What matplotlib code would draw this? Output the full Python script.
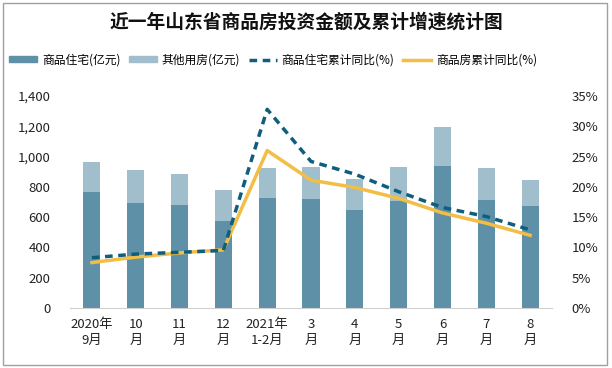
import matplotlib
matplotlib.use("Agg")
import matplotlib.pyplot as plt
from matplotlib.patches import Rectangle
from matplotlib.lines import Line2D
from matplotlib.patches import Patch
import numpy as np

plt.rcParams['font.family'] = ['Noto Sans CJK SC', 'DejaVu Sans']

categories = ["2020年\n9月", "10\n月", "11\n月", "12\n月", "2021年\n1-2月", "3\n月",
              "4\n月", "5\n月", "6\n月", "7\n月", "8\n月"]
residential = [766, 693, 680, 575, 728, 720, 647, 707, 938, 713, 674]
total = [964, 911, 885, 779, 922, 933, 852, 931, 1195, 925, 845]
other = [t - r for t, r in zip(total, residential)]
res_growth = [8.3, 8.9, 9.2, 9.5, 32.8, 24.2, 22.1, 19.2, 16.6, 15.1, 12.9]
all_growth = [7.5, 8.4, 9.1, 9.6, 26.0, 21.1, 19.9, 18.1, 15.7, 14.0, 12.0]
yticks_left = [0, 200, 400, 600, 800, 1000, 1200, 1400]
yticks_right = [0, 5, 10, 15, 20, 25, 30, 35]

c_dark = "#5E90A7"
c_light = "#A0BECB"
c_dash = "#0F5E7E"
c_yellow = "#F2BE45"

W, H = 612, 368
fig = plt.figure(figsize=(W / 100, H / 100), dpi=100)
ax = fig.add_axes([70 / W, 1 - 308 / H, (552 - 70) / W, (308 - 96) / H])
ax2 = ax.twinx()

x = np.arange(len(categories))
bw = 0.39
ax.bar(x, residential, bw, color=c_dark, zorder=2)
ax.bar(x, other, bw, bottom=residential, color=c_light, zorder=2)

ax.set_ylim(0, 1400)
ax.set_xlim(-0.5, len(categories) - 0.5)
ax.set_yticks(yticks_left)
ax.set_yticklabels([f"{v:,}" for v in yticks_left])
ax.set_xticks(x)
ax.set_xticklabels(categories, fontsize=9.5, linespacing=1.3)
ax.tick_params(axis='both', length=0, labelsize=9.5, colors="#222222")
ax.tick_params(axis='y', pad=14)
ax.tick_params(axis='x', pad=7)
for s in ['top', 'right', 'left']:
    ax.spines[s].set_visible(False)
ax.spines['bottom'].set_color("#D0D0D0")

ax2.plot(x, res_growth, color=c_dash, lw=2.5, linestyle=(0, (2.2, 1.6)), zorder=4)
ax2.plot(x, all_growth, color=c_yellow, lw=2.5, zorder=3, solid_joinstyle='round')
ax2.set_ylim(0, 35)
ax2.set_yticks(yticks_right)
ax2.set_yticklabels([f"{v}%" for v in yticks_right])
ax2.tick_params(axis='y', length=0, labelsize=9.5, colors="#222222", pad=14)
for s in ['top', 'right', 'left', 'bottom']:
    ax2.spines[s].set_visible(False)

fig.text(0.5, 1 - 22 / H, "近一年山东省商品房投资金额及累计增速统计图",
         ha='center', va='center', fontsize=13.5, fontweight='bold', color="#111111")

handles = [Patch(color=c_dark), Patch(color=c_light),
           Line2D([], [], color=c_dash, lw=2.5, linestyle=(0, (2.2, 1.6))),
           Line2D([], [], color=c_yellow, lw=2.5)]
labels = ["商品住宅(亿元)", "其他用房(亿元)", "商品住宅累计同比(%)", "商品房累计同比(%)"]
fig.legend(handles, labels, loc='center left', bbox_to_anchor=(9 / W, 1 - 60 / H), ncol=4,
           frameon=False, fontsize=8.5, handlelength=2.4, handleheight=0.45,
           columnspacing=0.7, handletextpad=0.4, borderpad=0, borderaxespad=0)

fig.patches.append(Rectangle((3 / W, 3 / H), 604 / W, 362 / H, transform=fig.transFigure,
                             fill=False, edgecolor="#A0A0A0", lw=1))

fig.savefig("out.png", dpi=100)
